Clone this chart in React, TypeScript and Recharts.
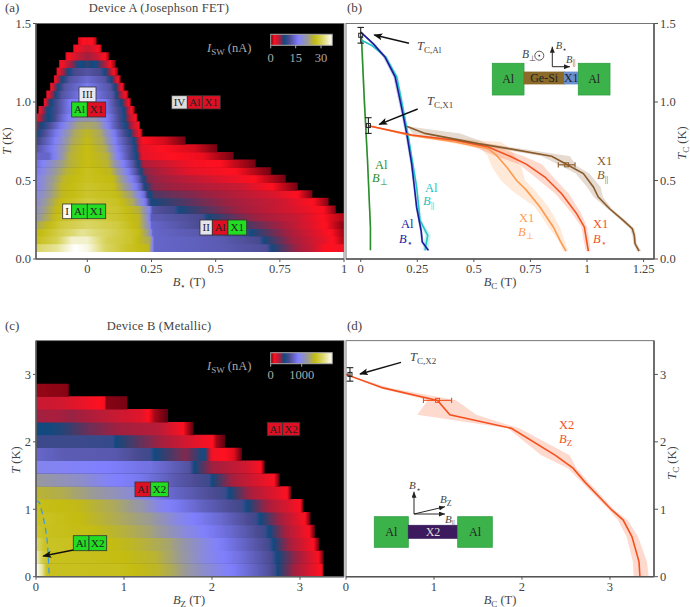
import React from 'react';
import {
    ComposedChart,
    Area,
    Line,
    XAxis,
    YAxis,
    ReferenceArea,
    ReferenceLine,
    ReferenceDot,
} from 'recharts';

const SERIF = '"Liberation Serif", serif';
const INK = '#444';

// switching current maps, one row per temperature step: [B, I_SW] stops
const aRowEdges = [
    0.045, 0.094, 0.143, 0.191, 0.24, 0.289, 0.338, 0.387, 0.435, 0.484, 0.533, 0.582, 0.631, 0.679, 0.728,
    0.777, 0.826, 0.875, 0.923, 0.972, 1.021, 1.07, 1.119, 1.167, 1.216, 1.265, 1.314, 1.363, 1.412,
];
const aRows: number[][][] = [
    [[-0.2, 31], [-0.12, 33], [-0.05, 37], [0, 36], [0.07, 31], [0.15, 28], [0.24, 26], [0.25, 20], [0.26, 14], [0.5, 13], [0.7, 11.5], [0.72, 8], [0.78, 6.5], [0.88, 4], [0.93, 2], [1, 2.5]],
    [[-0.2, 27], [-0.12, 30], [-0.06, 35], [0, 35], [0.08, 30], [0.17, 28], [0.245, 24], [0.26, 14], [0.5, 13], [0.67, 11], [0.69, 8], [0.8, 5.5], [0.92, 3], [0.96, 2], [1, 1]],
    [[-0.2, 26], [-0.1, 30], [-0.02, 33], [0.1, 30], [0.2, 27], [0.24, 22], [0.255, 14], [0.5, 12], [0.62, 10], [0.64, 8], [0.78, 5.5], [0.9, 3], [0.95, 2], [1, 0.8]],
    [[-0.2, 24], [-0.1, 29], [0, 31], [0.12, 29], [0.2, 26], [0.24, 20], [0.25, 14], [0.45, 11], [0.53, 9.5], [0.55, 8], [0.75, 5.5], [0.88, 3], [0.93, 2], [1, 0.5]],
    [[-0.2, 21], [-0.12, 27], [0, 30], [0.12, 28], [0.2, 26], [0.235, 20], [0.25, 13], [0.45, 11], [0.47, 8], [0.62, 6], [0.82, 4], [0.92, 2], [1, 1]],
    [[-0.2, 20], [-0.12, 26.5], [0, 29], [0.12, 28], [0.2, 25], [0.24, 18], [0.255, 12], [0.34, 10.5], [0.36, 8], [0.55, 6], [0.8, 3.5], [0.92, 2], [0.968, 0.5]],
    [[-0.2, 19], [-0.11, 26.5], [0, 29], [0.12, 27.5], [0.18, 24], [0.23, 15], [0.24, 11], [0.25, 8], [0.5, 6], [0.75, 4], [0.88, 2], [0.94, 0.5]],
    [[-0.2, 18], [-0.1, 26], [0, 28], [0.11, 27], [0.17, 23], [0.225, 14], [0.235, 9], [0.26, 7], [0.5, 5.5], [0.72, 3.5], [0.82, 2], [0.877, 0.3]],
    [[-0.2, 17], [-0.1, 26], [0, 28], [0.1, 27], [0.16, 21], [0.21, 13], [0.225, 8], [0.26, 6], [0.6, 4], [0.72, 2], [0.82, 0.3]],
    [[-0.2, 17], [-0.09, 26], [0, 27.5], [0.1, 26.5], [0.15, 20], [0.2, 13], [0.22, 8], [0.24, 6], [0.5, 3.5], [0.65, 2], [0.773, 0.3]],
    [[-0.2, 16], [-0.08, 25.5], [0, 27.5], [0.09, 26], [0.14, 19], [0.19, 12], [0.21, 8], [0.225, 6], [0.4, 3], [0.58, 2], [0.715, 0.3]],
    [[-0.2, 15], [-0.07, 25], [0, 27], [0.08, 25.5], [0.13, 18], [0.18, 12], [0.2, 8], [0.22, 5], [0.4, 2.5], [0.52, 2], [0.656, 0.3]],
    [[-0.2, 14], [-0.15, 14], [-0.07, 25], [0, 27], [0.08, 25], [0.12, 17], [0.17, 11], [0.195, 8], [0.215, 3], [0.35, 2], [0.45, 1.8], [0.57, 0.3]],
    [[-0.2, 12], [-0.14, 16], [-0.06, 25], [0, 27], [0.07, 24.5], [0.12, 16], [0.17, 11], [0.19, 8], [0.21, 3], [0.3, 2], [0.42, 1.5], [0.506, 0.3]],
    [[-0.2, 10], [-0.14, 15], [-0.06, 24], [0, 26.5], [0.06, 24], [0.12, 15], [0.17, 10], [0.19, 7], [0.21, 3], [0.22, 2], [0.3, 1.5], [0.383, 0.3]],
    [[-0.2, 8], [-0.14, 14], [-0.05, 24], [0, 26], [0.05, 24], [0.12, 14], [0.16, 9], [0.18, 6], [0.205, 2], [0.215, 0.5]],
    [[-0.2, 6], [-0.18, 8], [-0.12, 14], [-0.04, 23], [0, 24], [0.04, 23], [0.1, 14], [0.15, 8.5], [0.18, 4], [0.2, 2], [0.205, 0.5]],
    [[-0.2, 2.5], [-0.17, 7], [-0.14, 9], [-0.1, 14], [-0.03, 21], [0.03, 21], [0.1, 14], [0.14, 9], [0.17, 4], [0.19, 2], [0.195, 0.5]],
    [[-0.19, 2], [-0.16, 7.5], [-0.13, 10], [-0.08, 15], [0, 20], [0.08, 15], [0.13, 10], [0.15, 7], [0.17, 2.5], [0.185, 0.5]],
    [[-0.17, 1.5], [-0.15, 7], [-0.12, 11], [-0.07, 16], [0, 18], [0.07, 16], [0.12, 10], [0.14, 7], [0.16, 2.5], [0.17, 0.5]],
    [[-0.16, 1.5], [-0.13, 7], [-0.1, 12], [0, 17], [0.1, 12], [0.12, 7], [0.15, 2], [0.16, 0.5]],
    [[-0.145, 1.5], [-0.12, 7], [-0.09, 12], [0, 16], [0.09, 12], [0.115, 7], [0.135, 2], [0.145, 0.5]],
    [[-0.13, 1.5], [-0.105, 7], [-0.07, 12], [0, 14.5], [0.07, 12], [0.1, 7], [0.12, 2], [0.13, 0.5]],
    [[-0.12, 1.5], [-0.09, 6], [-0.05, 11], [0, 12], [0.05, 11], [0.085, 6], [0.105, 2], [0.12, 0.5]],
    [[-0.11, 1.5], [-0.07, 5], [-0.03, 8.5], [0, 7.5], [0.03, 8.5], [0.07, 5], [0.09, 2], [0.11, 0.5]],
    [[-0.085, 1.5], [-0.04, 4], [0, 5.5], [0.04, 4], [0.07, 2], [0.085, 0.5]],
    [[-0.055, 1.5], [-0.02, 3.5], [0, 4], [0.03, 3], [0.055, 1.2]],
    [[-0.036, 1.5], [0, 2.5], [0.02, 2], [0.036, 1]],
];

const cRowEdges = [0, 0.191, 0.381, 0.572, 0.763, 0.953, 1.144, 1.335, 1.525, 1.716, 1.907, 2.097, 2.288, 2.479, 2.669, 2.86];
const cRows: number[][][] = [
    [[0, 2000], [0.07, 1800], [0.12, 1480], [0.95, 1470], [1.37, 1400], [1.56, 1300], [1.9, 1050], [2.25, 880], [2.63, 650], [2.72, 560], [2.74, 440], [2.93, 300], [3.2, 130], [3.25, 100], [3.27, 0]],
    [[0, 1900], [0.07, 1600], [0.15, 1480], [0.6, 1470], [1, 1440], [1.35, 1380], [1.6, 1230], [1.9, 1000], [2.3, 820], [2.68, 600], [2.74, 440], [3, 280], [3.2, 130], [3.27, 0]],
    [[0, 1700], [0.1, 1500], [0.7, 1470], [1.1, 1400], [1.5, 1280], [1.9, 1000], [2.3, 780], [2.65, 580], [2.7, 440], [2.9, 280], [3.15, 120], [3.22, 0]],
    [[0, 1550], [0.1, 1480], [0.6, 1450], [1, 1360], [1.3, 1260], [1.7, 1000], [2.2, 780], [2.6, 560], [2.65, 440], [2.85, 280], [3.1, 120], [3.17, 0]],
    [[0, 1500], [0.5, 1440], [0.85, 1340], [1.3, 1200], [1.6, 980], [2.1, 770], [2.5, 560], [2.55, 440], [2.8, 280], [3.05, 120], [3.12, 0]],
    [[0, 1470], [0.5, 1420], [0.9, 1300], [1.2, 1150], [1.4, 960], [1.9, 730], [2.35, 560], [2.4, 440], [2.65, 280], [3, 120], [3.04, 0]],
    [[0, 1380], [0.3, 1330], [0.7, 1180], [1.1, 1020], [1.5, 780], [2.15, 560], [2.2, 440], [2.45, 280], [2.85, 120], [2.9, 0]],
    [[0, 1180], [0.5, 1060], [0.8, 930], [1.2, 850], [1.6, 680], [1.97, 560], [2, 440], [2.25, 280], [2.7, 120], [2.77, 0]],
    [[0, 950], [0.8, 900], [1.3, 820], [1.75, 640], [1.8, 440], [2, 300], [2.4, 200], [2.55, 120], [2.6, 0]],
    [[0, 760], [0.3, 700], [0.9, 680], [1.3, 560], [1.35, 440], [1.7, 330], [1.92, 450], [2, 140], [2.25, 90], [2.34, 0]],
    [[0, 560], [0.5, 560], [0.88, 540], [0.9, 440], [1.3, 330], [1.9, 140], [2, 120], [2.05, 50], [2.15, 0]],
    [[0, 450], [0.3, 420], [0.6, 350], [1, 290], [1.4, 250], [1.65, 130], [1.7, 80], [1.79, 0]],
    [[0, 300], [0.2, 280], [0.4, 310], [0.8, 240], [1.2, 170], [1.28, 110], [1.35, 50], [1.5, 0]],
    [[0, 220], [0.3, 200], [0.6, 140], [0.78, 100], [0.8, 30], [1.03, 20], [1.04, 0]],
    [[0, 40], [0.35, 30], [0.375, 0]],
];

// critical curves: [T, B, band low, band high]
const alPerp = [[1.42, 0.003, 0, 0.008], [1.01, 0.016, 0.012, 0.02], [0.63, 0.03, 0.027, 0.033], [0.2, 0.043, 0.04, 0.046], [0.055, 0.043, 0.04, 0.046]];
const alStar = [[1.445, 0, 0, 0.006], [1.37, 0.056, 0.048, 0.064], [1.287, 0.107, 0.098, 0.116], [1.16, 0.152, 0.144, 0.16], [1.01, 0.174, 0.166, 0.182], [0.904, 0.189, 0.182, 0.196], [0.8, 0.203, 0.196, 0.21], [0.607, 0.225, 0.219, 0.231], [0.46, 0.237, 0.232, 0.242], [0.33, 0.247, 0.242, 0.252], [0.18, 0.267, 0.262, 0.272], [0.108, 0.272, 0.266, 0.278], [0.055, 0.299, 0.29, 0.306]];
const alPara = [[1.397, 0, 0, 0.004], [1.36, 0.049, 0.044, 0.055], [1.287, 0.11, 0.104, 0.118], [1.16, 0.159, 0.154, 0.166], [1.01, 0.18, 0.175, 0.186], [0.904, 0.194, 0.19, 0.199], [0.8, 0.208, 0.204, 0.212], [0.607, 0.23, 0.226, 0.234], [0.46, 0.247, 0.243, 0.251], [0.246, 0.262, 0.256, 0.27], [0.15, 0.296, 0.285, 0.31], [0.055, 0.284, 0.272, 0.298]];
const x1Para = [[0.845, 0.203, 0.203, 0.203], [0.8, 0.284, 0.23, 0.44], [0.735, 0.52, 0.47, 0.56], [0.7, 0.667, 0.62, 0.72], [0.654, 0.844, 0.8, 0.925], [0.597, 0.917, 0.88, 0.95], [0.544, 0.984, 0.95, 1.01], [0.459, 1.028, 1, 1.06], [0.395, 1.05, 1.03, 1.07], [0.32, 1.1, 1.09, 1.11], [0.246, 1.16, 1.15, 1.17], [0.193, 1.2, 1.19, 1.21], [0.15, 1.209, 1.2, 1.215], [0.098, 1.212, 1.205, 1.22], [0.05, 1.23, 1.22, 1.24]];
const x1Star = [[0.849, 0.034, 0.034, 0.034], [0.79, 0.225, 0.19, 0.26], [0.756, 0.417, 0.38, 0.45], [0.713, 0.564, 0.5, 0.6], [0.654, 0.66, 0.6, 0.72], [0.603, 0.733, 0.7, 0.8], [0.522, 0.814, 0.77, 0.85], [0.416, 0.888, 0.86, 0.92], [0.289, 0.954, 0.935, 0.975], [0.204, 0.988, 0.975, 1], [0.119, 0.998, 0.985, 1.01], [0.05, 1.006, 0.995, 1.015]];
const x1Perp = [[0.849, 0.034, 0.034, 0.034], [0.787, 0.225, 0.2, 0.25], [0.745, 0.417, 0.38, 0.62], [0.703, 0.564, 0.53, 0.66], [0.66, 0.6, 0.56, 0.68], [0.586, 0.645, 0.58, 0.71], [0.5, 0.689, 0.62, 0.726], [0.437, 0.733, 0.667, 0.77], [0.331, 0.792, 0.77, 0.83], [0.204, 0.851, 0.83, 0.88], [0.12, 0.88, 0.873, 0.9], [0.05, 0.907, 0.895, 0.917]];
const x2Curve = [[3, 0, 0, 0], [2.8, 0.42, 0.38, 0.5], [2.615, 1.04, 0.93, 1.25], [2.4, 1.18, 0.81, 1.48], [2.2, 1.88, 1.84, 1.97], [1.8, 2.38, 2.22, 2.54], [1.61, 2.58, 2.52, 2.62], [1.41, 2.71, 2.67, 2.75], [0.99, 3.02, 2.99, 3.05], [0.84, 3.15, 3.09, 3.2], [0.59, 3.25, 3.19, 3.32], [0.22, 3.33, 3.26, 3.42], [0, 3.34, 3.27, 3.44]];
const alDashed = [[1.13, 0], [1.1, 0.04], [0.9, 0.08], [0.7, 0.11], [0.5, 0.13], [0.3, 0.14], [0, 0.15]];

const curvesB = [
    { pts: alPerp, color: '#2a8f2a' },
    { pts: alPara, color: '#22c4c4' },
    { pts: alStar, color: '#1a1a9e' },
    { pts: x1Perp, color: '#ff9a4d' },
    { pts: x1Star, color: '#f4511e' },
    { pts: x1Para, color: '#8a5a2b' },
];
const curvesD = [{ pts: x2Curve, color: '#f4511e' }];

// [B, T, half width in B, half height in T, colour]
const errorsB: [number, number, number, number, string][] = [
    [0, 1.425, 0, 0.05, '#222'],
    [0.034, 0.85, 0, 0.05, '#222'],
    [0.91, 0.6, 0.037, 0, '#8a5a2b'],
];
const errorsD: [number, number, number, number, string][] = [
    [0.045, 3, 0, 0.1, '#222'],
    [1.04, 2.615, 0.16, 0, '#f4511e'],
];

const cmap: [number, number, number, number][] = [
    [0, 90, 0, 16],
    [0.055, 255, 16, 32],
    [0.15, 160, 32, 64],
    [0.22, 16, 74, 128],
    [0.3, 74, 74, 144],
    [0.45, 128, 128, 255],
    [0.6, 154, 154, 152],
    [0.72, 196, 188, 16],
    [0.85, 220, 216, 110],
    [1, 255, 255, 255],
];

function colorAt(f: number) {
    const v = Math.max(0, Math.min(1, f));
    let i = 0;
    while (i < cmap.length - 2 && v > cmap[i + 1][0]) i++;
    const [a, b] = [cmap[i], cmap[i + 1]];
    const k = (v - a[0]) / (b[0] - a[0]);
    const c = [1, 2, 3].map((j) => Math.round(a[j] + (b[j] - a[j]) * k));
    return `rgb(${c.join(',')})`;
}

// one horizontal gradient per heat map row
function RowGradient({ id, row, max }: { id: string; row: number[][]; max: number }) {
    const b0 = row[0][0];
    const span = row[row.length - 1][0] - b0;
    const stops: React.ReactNode[] = [];
    row.forEach((p, i) => {
        const next = row[i + 1];
        const parts = next ? 5 : 1;
        for (let s = 0; s < parts; s++) {
            const b = next ? p[0] + ((next[0] - p[0]) * s) / parts : p[0];
            const val = next ? p[1] + ((next[1] - p[1]) * s) / parts : p[1];
            stops.push(<stop key={`${i}-${s}`} offset={(b - b0) / span} stopColor={colorAt(val / max)} />);
        }
    });
    return (
        <linearGradient id={id} x1="0" x2="1" y1="0" y2="0">
            {stops}
        </linearGradient>
    );
}

const FS = 12.5;
const tickStyle = { fontFamily: SERIF, fontSize: FS, fill: INK };
const axisLine = { stroke: '#555', strokeWidth: 1.5 };
const tickLine = { stroke: '#555' };

function HeatMap({ prefix, edges, rows, xDomain, xTicks, yDomain, yTicks, yFmt, floor, dashed, top, height, marginTop }: any) {
    // rows overlap a hair so no seams show between them
    const seam = (yDomain[1] - yDomain[0]) * 0.002;
    return (
        <div style={{ position: 'absolute', left: 0, top }}>
            <ComposedChart width={360} height={height} margin={{ top: marginTop, right: 16, bottom: 0, left: 0 }}>
                <XAxis type="number" dataKey="b" domain={xDomain} ticks={xTicks} interval={0} allowDataOverflow height={30} tick={tickStyle} tickSize={3} axisLine={axisLine} tickLine={tickLine} />
                <YAxis type="number" domain={yDomain} ticks={yTicks} interval={0} allowDataOverflow width={36} tick={tickStyle} tickSize={3} axisLine={axisLine} tickLine={tickLine} tickFormatter={yFmt} />
                <ReferenceArea x1={xDomain[0]} x2={xDomain[1]} y1={floor} y2={yDomain[1]} fill="#000" fillOpacity={1} stroke="none" />
                {rows.map((row: number[][], i: number) => (
                    <ReferenceArea
                        key={i}
                        x1={row[0][0]}
                        x2={row[row.length - 1][0]}
                        y1={edges[i]}
                        y2={edges[i + 1] + (i < rows.length - 1 ? seam : 0)}
                        fill={`url(#${prefix}${i})`}
                        fillOpacity={1}
                        stroke="none"
                    />
                ))}
                {dashed && (
                    <Line
                        data={dashed.map(([t, b]: number[]) => ({ t, b }))}
                        dataKey="t"
                        stroke="#3b9be8"
                        strokeWidth={1.3}
                        strokeDasharray="6 4"
                        dot={false}
                        isAnimationActive={false}
                    />
                )}
            </ComposedChart>
        </div>
    );
}

function CurvePanel({ curves, errors, xDomain, xTicks, yDomain, yTicks, yFmt, top, height, marginTop }: any) {
    return (
        <div style={{ position: 'absolute', left: 340, top }}>
            <ComposedChart layout="vertical" width={350} height={height} margin={{ top: marginTop, right: 0, bottom: 0, left: 6 }}>
                <XAxis type="number" domain={xDomain} ticks={xTicks} interval={0} allowDataOverflow height={30} tick={tickStyle} tickSize={3} axisLine={axisLine} tickLine={tickLine} />
                <YAxis type="number" dataKey="t" orientation="right" reversed domain={yDomain} ticks={yTicks} interval={0} allowDataOverflow width={36} tick={tickStyle} tickSize={4} axisLine={axisLine} tickLine={tickLine} tickFormatter={yFmt} />
                {curves.map((c: any, i: number) => (
                    <Area
                        key={`band-${i}`}
                        data={c.pts.map(([t, b, lo, hi]: number[]) => ({ t, b, band: [lo, hi] }))}
                        dataKey="band"
                        stroke="none"
                        fill={c.color}
                        fillOpacity={0.22}
                        dot={false}
                        activeDot={false}
                        isAnimationActive={false}
                    />
                ))}
                {curves.map((c: any, i: number) => (
                    <Line
                        key={`line-${i}`}
                        data={c.pts.map(([t, b]: number[]) => ({ t, b }))}
                        dataKey="b"
                        stroke={c.color}
                        strokeWidth={1.6}
                        dot={false}
                        activeDot={false}
                        isAnimationActive={false}
                    />
                ))}
                {errors.map(([b, t, db, dt, color]: any, i: number) => {
                    const capB = dt ? xDomain[1] * 0.011 : 0;
                    const capT = db ? yDomain[1] * 0.011 : 0;
                    return (
                        <React.Fragment key={`err-${i}`}>
                            <ReferenceLine segment={[{ x: b - db, y: t - dt }, { x: b + db, y: t + dt }]} stroke={color} strokeWidth={1.1} />
                            <ReferenceLine segment={[{ x: b - db - capB, y: t - dt - capT }, { x: b - db + capB, y: t - dt + capT }]} stroke={color} strokeWidth={1.1} />
                            <ReferenceLine segment={[{ x: b + db - capB, y: t + dt - capT }, { x: b + db + capB, y: t + dt + capT }]} stroke={color} strokeWidth={1.1} />
                            <ReferenceDot
                                x={b}
                                y={t}
                                r={2}
                                shape={(p: any) => <rect x={p.cx - 2} y={p.cy - 2} width={4} height={4} fill="none" stroke={color} strokeWidth={1} />}
                            />
                        </React.Fragment>
                    );
                })}
            </ComposedChart>
        </div>
    );
}

// ---- annotations: labels, tags, colour bars and the device sketches ----

function Sym({ x, y, base, sub, color = INK, size = FS, anchor }: any) {
    return (
        <text x={x} y={y} fill={color} fontSize={size} fontFamily={SERIF} textAnchor={anchor}>
            <tspan fontStyle="italic">{base}</tspan>
            <tspan dy={size * 0.25} fontSize={size * 0.72}>{sub}</tspan>
        </text>
    );
}

function Plain({ x, y, children, color = INK, size = FS, anchor, spacing }: any) {
    return (
        <text x={x} y={y} fill={color} fontSize={size} fontFamily={SERIF} textAnchor={anchor} letterSpacing={spacing}>
            {children}
        </text>
    );
}

function AxisLabel({ x, y, base, sub, rotate }: any) {
    return (
        <text x={x} y={y} fill={INK} fontSize={FS} fontFamily={SERIF} textAnchor="middle" transform={rotate ? `rotate(-90 ${x} ${y})` : undefined}>
            <tspan fontStyle="italic">{base}</tspan>
            {sub && <tspan dy={2.5} fontSize={9}>{sub}</tspan>}
            <tspan dy={sub ? -2.5 : 0}> {rotate ? '(K)' : '(T)'}</tspan>
        </text>
    );
}

const GREEN = '#22dd22';
const RED = '#e01024';

function Tag({ x, x2, y, y2, fill, label }: any) {
    return (
        <g>
            <rect x={x} y={y} width={x2 - x} height={y2 - y} fill={fill} stroke="#333" strokeWidth={0.8} />
            <text x={(x + x2) / 2} y={(y + y2) / 2 + 3.8} fontSize={11} fontFamily={SERIF} fill="#222" textAnchor="middle">
                {label}
            </text>
        </g>
    );
}

function ColorBar({ y, id, ticks, labelY }: any) {
    return (
        <g>
            <rect x={270.7} y={y} width={61.5} height={11} fill={`url(#${id})`} stroke="#aaa" strokeWidth={1} />
            {ticks.map(([x, s]: any) => (
                <g key={s}>
                    <line x1={x} x2={x} y1={y + 11} y2={y + 14} stroke="#aaa" />
                    <Plain x={x} y={labelY} color="#aaa" anchor="middle">{s}</Plain>
                </g>
            ))}
        </g>
    );
}

function Arrow({ x1, y1, x2, y2, w = 1.3, head = 'arrow' }: any) {
    return <line x1={x1} y1={y1} x2={x2} y2={y2} stroke="#111" strokeWidth={w} markerEnd={`url(#${head})`} />;
}

function Block({ x, x2, y, y2, fill, stroke = '#2e9e40', label, color = '#222' }: any) {
    return (
        <g>
            <rect x={x} y={y} width={x2 - x} height={y2 - y} fill={fill} stroke={stroke} strokeWidth={0.8} />
            <text x={(x + x2) / 2} y={(y + y2) / 2 + 4} fontSize={12} fontFamily={SERIF} fill={color} textAnchor="middle">
                {label}
            </text>
        </g>
    );
}

function Overlay() {
    const barStops = [0, 0.055, 0.15, 0.22, 0.3, 0.45, 0.6, 0.72, 0.85, 1];
    const OR = '#f4511e';
    const LO = '#ff9a4d';
    const BR = '#8a5a2b';
    const CY = '#22c4c4';
    const NV = '#1a1a9e';
    const GN = '#2a8f2a';
    const PAR = '||';
    return (
        <svg width={690} height={607} style={{ position: 'absolute', left: 0, top: 0, pointerEvents: 'none' }}>
            <defs>
                {aRows.map((row, i) => <RowGradient key={i} id={`a${i}`} row={row} max={37} />)}
                {cRows.map((row, i) => <RowGradient key={i} id={`c${i}`} row={row} max={2000} />)}
                <linearGradient id="bar" x1="0" x2="1" y1="0" y2="0">
                    {barStops.map((s) => <stop key={s} offset={s} stopColor={colorAt(s)} />)}
                </linearGradient>
                <marker id="arrow" markerWidth="9" markerHeight="7" refX="8" refY="3.5" orient="auto" markerUnits="userSpaceOnUse">
                    <path d="M0,0 L9,3.5 L0,7 L2,3.5 Z" fill="#111" />
                </marker>
                <marker id="small" markerWidth="6" markerHeight="5" refX="6" refY="2.5" orient="auto" markerUnits="userSpaceOnUse">
                    <path d="M0,0 L6,2.5 L0,5 Z" fill="#222" />
                </marker>
            </defs>

            {/* frames */}
            <rect x={36} y={23.5} width={308} height={235.5} fill="none" stroke="#666" strokeWidth={0.8} />
            <rect x={346} y={23.5} width={308} height={235.5} fill="none" stroke="#555" strokeWidth={0.8} />
            <rect x={36} y={340.7} width={308} height={236} fill="none" stroke="#666" strokeWidth={0.8} />
            <rect x={346} y={340.7} width={308} height={236} fill="none" stroke="#555" strokeWidth={0.8} />

            {/* panel titles */}
            <Plain x={5} y={12} size={13}>(a)</Plain>
            <Plain x={159} y={12} anchor="middle" spacing={0.25}>Device A (Josephson FET)</Plain>
            <Plain x={347} y={12} size={13}>(b)</Plain>
            <Plain x={5} y={330} size={13}>(c)</Plain>
            <Plain x={159} y={330} anchor="middle" spacing={0.25}>Device B (Metallic)</Plain>
            <Plain x={347} y={330} size={13}>(d)</Plain>

            {/* axis titles */}
            <AxisLabel x={11} y={141} base="T" rotate />
            <AxisLabel x={189} y={286} base="B" sub="⋆" />
            <AxisLabel x={500} y={286} base="B" sub="C" />
            <AxisLabel x={686} y={143} base="T" sub="C" rotate />
            <AxisLabel x={20} y={460} base="T" rotate />
            <AxisLabel x={189} y={604} base="B" sub="Z" />
            <AxisLabel x={500} y={604} base="B" sub="C" />
            <AxisLabel x={676} y={463} base="T" sub="C" rotate />

            {/* panel a */}
            <text x={207} y={52} fill="#aaa" fontSize={FS} fontFamily={SERIF}>
                <tspan fontStyle="italic">I</tspan>
                <tspan dy={2.5} fontSize={9}>SW</tspan>
                <tspan dy={-2.5}>  (nA)</tspan>
            </text>
            <ColorBar y={34.3} id="bar" labelY={62} ticks={[[270.7, '0'], [295.7, '15'], [321, '30']]} />
            <Tag x={79} x2={96} y={87} y2={102} fill="#e8e8f4" label="III" />
            <Tag x={71.7} x2={87.3} y={102} y2={117} fill={GREEN} label="Al" />
            <Tag x={87.3} x2={105.7} y={102} y2={117} fill={RED} label="X1" />
            <Tag x={171.7} x2={187.3} y={95.7} y2={109} fill="#ddd" label="IV" />
            <Tag x={187.3} x2={202.3} y={95.7} y2={109} fill={RED} label="Al" />
            <Tag x={202.3} x2={220.3} y={95.7} y2={109} fill={RED} label="X1" />
            <Tag x={62.7} x2={71.7} y={204} y2={218.7} fill="#fafaf0" label="I" />
            <Tag x={71.7} x2={87.3} y={204} y2={218.7} fill={GREEN} label="Al" />
            <Tag x={87.3} x2={105.7} y={204} y2={218.7} fill={GREEN} label="X1" />
            <Tag x={200} x2={212.3} y={220} y2={235} fill="#e4e4ee" label="II" />
            <Tag x={212.3} x2={228} y={220} y2={235} fill={RED} label="Al" />
            <Tag x={228} x2={246.7} y={220} y2={235} fill={GREEN} label="X1" />

            {/* panel b */}
            <Arrow x1={409} y1={43.3} x2={374.3} y2={35} w={1.4} />
            <Sym x={417} y={50} base="T" sub="C,Al" />
            <Arrow x1={417.7} y1={109} x2={379.3} y2={124.3} w={1.4} />
            <Sym x={427} y={105} base="T" sub="C,X1" />
            <Block x={492.3} x2={524} y={63.3} y2={95} fill="#3cb34a" label="Al" />
            <Block x={524} x2={564.3} y={72} y2={84} fill="#8b6a2a" stroke="#8b6a2a" label="Ge-Si" />
            <Block x={564.3} x2={578.3} y={72} y2={84} fill="#6a8fd0" stroke="#6a8fd0" label="X1" />
            <Block x={578.3} x2={610} y={63.3} y2={95} fill="#3cb34a" label="Al" />
            <Arrow x1={552.3} y1={66.7} x2={552.3} y2={46.7} w={0.9} head="small" />
            <Arrow x1={552.3} y1={66.7} x2={570} y2={66.7} w={0.9} head="small" />
            <Sym x={555.7} y={49} base="B" sub="⋆" size={10.5} />
            <Sym x={566} y={62.5} base="B" sub={PAR} size={10.5} />
            <Sym x={522} y={58} base="B" sub="⊥" size={11.5} />
            <circle cx={539.3} cy={55.7} r={4.5} fill="none" stroke="#333" strokeWidth={0.8} />
            <circle cx={539.3} cy={55.7} r={0.9} fill="#333" />
            <Plain x={375} y={169} color={GN}>Al</Plain>
            <Sym x={372} y={182} base="B" sub="⊥" color={GN} />
            <Plain x={425} y={192} color={CY}>Al</Plain>
            <Sym x={423} y={205} base="B" sub={PAR} color={CY} />
            <Plain x={401} y={228} color={NV}>Al</Plain>
            <Sym x={399} y={243} base="B" sub="⋆" color={NV} />
            <Plain x={519} y={222} color={LO}>X1</Plain>
            <Sym x={518} y={236} base="B" sub="⊥" color={LO} />
            <Plain x={593} y={228} color={OR}>X1</Plain>
            <Sym x={593} y={243} base="B" sub="⋆" color={OR} />
            <Plain x={597} y={165} color={BR}>X1</Plain>
            <Sym x={597} y={179} base="B" sub={PAR} color={BR} />

            {/* panel c */}
            <text x={207} y={370} fill="#aaa" fontSize={FS} fontFamily={SERIF}>
                <tspan fontStyle="italic">I</tspan>
                <tspan dy={2.5} fontSize={9}>SW</tspan>
                <tspan dy={-2.5}>  (nA)</tspan>
            </text>
            <ColorBar y={352.7} id="bar" labelY={379} ticks={[[270.7, '0'], [301.7, '1000']]} />
            <Tag x={135} x2={150.7} y={482} y2={496.7} fill={RED} label="Al" />
            <Tag x={150.7} x2={168.3} y={482} y2={496.7} fill={GREEN} label="X2" />
            <Tag x={267.3} x2={282.7} y={422.3} y2={435.7} fill={RED} label="Al" />
            <Tag x={282.7} x2={299.7} y={422.3} y2={435.7} fill={RED} label="X2" />
            <Tag x={73.3} x2={89} y={535.7} y2={550.7} fill={GREEN} label="Al" />
            <Tag x={89} x2={106.7} y={535.7} y2={550.7} fill={GREEN} label="X2" />
            <Arrow x1={73.3} y1={550} x2={43.3} y2={556} />

            {/* panel d */}
            <Arrow x1={401} y1={362.3} x2={360} y2={374} w={1.4} />
            <Sym x={410} y={361} base="T" sub="C,X2" />
            <Plain x={559} y={429} color={OR}>X2</Plain>
            <Sym x={559} y={443} base="B" sub="Z" color={OR} />
            <Block x={374.3} x2={408.3} y={516.7} y2={547.3} fill="#3cb34a" label="Al" />
            <Block x={408.3} x2={457.7} y={525.3} y2={538.3} fill="#3d1a5e" stroke="#3d1a5e" label="X2" color="#ddd" />
            <Block x={457.7} x2={492.3} y={516.7} y2={547.3} fill="#3cb34a" label="Al" />
            <Arrow x1={414} y1={514} x2={414} y2={491.7} w={0.9} head="small" />
            <Arrow x1={414} y1={514} x2={445} y2={514} w={0.9} head="small" />
            <Arrow x1={414} y1={514} x2={445} y2={506.7} w={0.9} head="small" />
            <Sym x={409} y={489} base="B" sub="⋆" size={11} />
            <Sym x={440} y={503} base="B" sub="Z" size={11} />
            <Sym x={445} y={523} base="B" sub={PAR} size={11} />
        </svg>
    );
}

export default function App() {
    return (
        <div style={{ position: 'absolute', left: 0, top: 0, width: 690, height: 607, background: '#fff' }}>
            <HeatMap
                prefix="a"
                edges={aRowEdges}
                rows={aRows}
                xDomain={[-0.2, 1]}
                xTicks={[0, 0.25, 0.5, 0.75, 1]}
                yDomain={[0, 1.5]}
                yTicks={[0, 0.5, 1, 1.5]}
                yFmt={(v: number) => v.toFixed(1)}
                floor={0.045}
                top={0}
                height={289}
                marginTop={23.5}
            />
            <CurvePanel
                curves={curvesB}
                errors={errorsB}
                xDomain={[-0.065, 1.296]}
                xTicks={[0, 0.25, 0.5, 0.75, 1, 1.25]}
                yDomain={[0, 1.5]}
                yTicks={[0, 0.5, 1, 1.5]}
                yFmt={(v: number) => v.toFixed(1)}
                top={0}
                height={289}
                marginTop={23.5}
            />
            <HeatMap
                prefix="c"
                edges={cRowEdges}
                rows={cRows}
                xDomain={[0, 3.5]}
                xTicks={[0, 1, 2, 3]}
                yDomain={[0, 3.5]}
                yTicks={[0, 1, 2, 3]}
                floor={0}
                dashed={alDashed}
                top={320}
                height={286.7}
                marginTop={20.7}
            />
            <CurvePanel
                curves={curvesD}
                errors={errorsD}
                xDomain={[0, 3.5]}
                xTicks={[0, 1, 2, 3]}
                yDomain={[0, 3.5]}
                yTicks={[0, 1, 2, 3]}
                top={320}
                height={286.7}
                marginTop={20.7}
            />
            <Overlay />
        </div>
    );
}
